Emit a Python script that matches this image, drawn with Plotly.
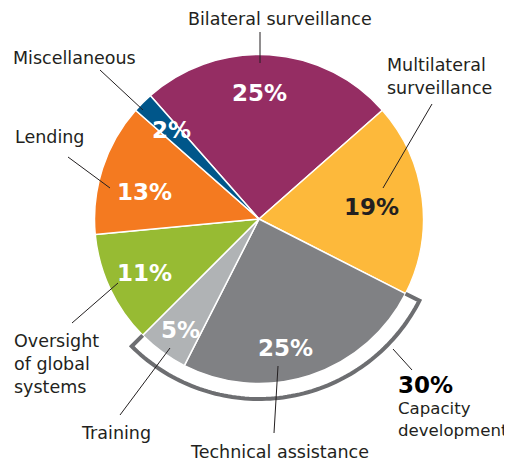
import math
import plotly.graph_objects as go

# ---- data ----
categories = ["Bilateral surveillance", "Multilateral surveillance", "Technical assistance",
              "Training", "Oversight of global systems", "Lending", "Miscellaneous"]
values = [25, 19, 25, 5, 11, 13, 2]
capacity_group = ["Technical assistance", "Training"]
capacity_label = "Capacity development"

# ---- style ----
colors = ["#952D63", "#FDB93B", "#808184", "#B0B3B5", "#97BB33", "#F47A20", "#00568A"]
pct_colors = ["white", "#231F20", "white", "white", "white", "white", "white"]
pct_afrac = [0.462, 0.516, 0.569, 0.45, 0.50, 0.40, 0.59]   # position within slice angle
pct_rfrac = [0.766, 0.69, 0.80, 0.825, 0.766, 0.713, 0.757]  # position along radius
OFF = 8                      # page body margin of the browser
W, H = 512 - OFF, 462 - OFF  # figure size so the figure fills the window
CX, CY, R = 259, 219, 164.5  # window pixel coordinates
ROT = -41.4
TXT = "#231F20"
LABEL_FONT = dict(family="DejaVu Sans", size=17.5, color=TXT)
PCT_FONT = "DejaVu Sans"

def px(x):
    return (x - OFF) / W

def py(y):
    return 1 - (y - OFF) / H

def polar(angle_deg, r):
    a = math.radians(angle_deg)
    return CX + r * math.sin(a), CY - r * math.cos(a)

fig = go.Figure()
fig.add_trace(go.Pie(
    labels=categories, values=values, sort=False, direction="clockwise",
    rotation=ROT, textinfo="none", hoverinfo="label+percent",
    marker=dict(colors=colors, line=dict(color="white", width=1.5)),
    domain=dict(x=[px(CX - R), px(CX + R)], y=[py(CY + R), py(CY - R)]),
    showlegend=False,
))

total = sum(values)
annotations = []
shapes = []
start = ROT
angles = {}
for cat, v, col, af, rf in zip(categories, values, pct_colors, pct_afrac, pct_rfrac):
    span = v / total * 360
    angles[cat] = (start, start + span)
    x, y = polar(start + span * af, R * rf)
    annotations.append(dict(x=px(x), y=py(y), xref="paper", yref="paper", text=f"{v}%",
                            showarrow=False, xanchor="center", yanchor="middle",
                            font=dict(family=PCT_FONT, size=23, color=col, weight="bold")))
    start += span

# capacity development bracket
a1 = angles[capacity_group[0]][0]
a2 = angles[capacity_group[-1]][1]
r_arc = 180
pts = [polar(a1, R)]
n = 80
for i in range(n + 1):
    pts.append(polar(a1 + (a2 - a1) * i / n, r_arc))
pts.append(polar(a2, R))
path = "M " + " L ".join(f"{px(x):.5f},{py(y):.5f}" for x, y in pts)
shapes.append(dict(type="path", path=path, xref="paper", yref="paper",
                   line=dict(color="#6D6E71", width=4), fillcolor="rgba(0,0,0,0)",
                   layer="above"))

# outside labels
labels_layout = [
    ("Bilateral surveillance", 280, 19, "center", 17.5),
    ("Miscellaneous", 11, 58, "left", 17.5),
    ("Multilateral<br>surveillance", 385, 76, "left", 17.5),
    ("Lending", 13, 137, "left", 17.5),
    ("Oversight<br>of global<br>systems", 12, 364, "left", 17.5),
    ("Training", 79, 433, "left", 17.5),
    ("Technical assistance", 279, 452, "center", 17.5),
    (capacity_label.replace(" ", "<br>"), 396, 419, "left", 16.6),
]
for text, x, y, xa, fs in labels_layout:
    annotations.append(dict(x=px(x), y=py(y), xref="paper", yref="paper", text=text,
                            showarrow=False, xanchor=xa, yanchor="middle", align="left",
                            font=dict(LABEL_FONT, size=fs)))
cap_pct = sum(v for c, v in zip(categories, values) if c in capacity_group)
annotations.append(dict(x=px(396), y=py(385), xref="paper", yref="paper", text=f"{cap_pct}%",
                        showarrow=False, xanchor="left", yanchor="middle",
                        font=dict(family=PCT_FONT, size=23, color="black", weight="bold")))

leaders = [
    ((260, 32), (260, 63)),
    ((100, 70), (143, 110)),
    ((432, 104), (383, 188)),
    ((68, 157), (110, 188)),
    ((72, 323), (118, 283)),
    ((120, 415), (170, 348)),
    ((274, 433), (278, 366)),
    ((412, 370), (393, 349)),
]
for (x0, y0), (x1, y1) in leaders:
    shapes.append(dict(type="line", xref="paper", yref="paper",
                       x0=px(x0), y0=py(y0), x1=px(x1), y1=py(y1),
                       line=dict(color=TXT, width=1), layer="above"))

fig.update_layout(width=W, height=H, margin=dict(l=0, r=0, t=0, b=0),
                  paper_bgcolor="white", plot_bgcolor="white",
                  annotations=annotations, shapes=shapes)
fig.write_html("out.html")
